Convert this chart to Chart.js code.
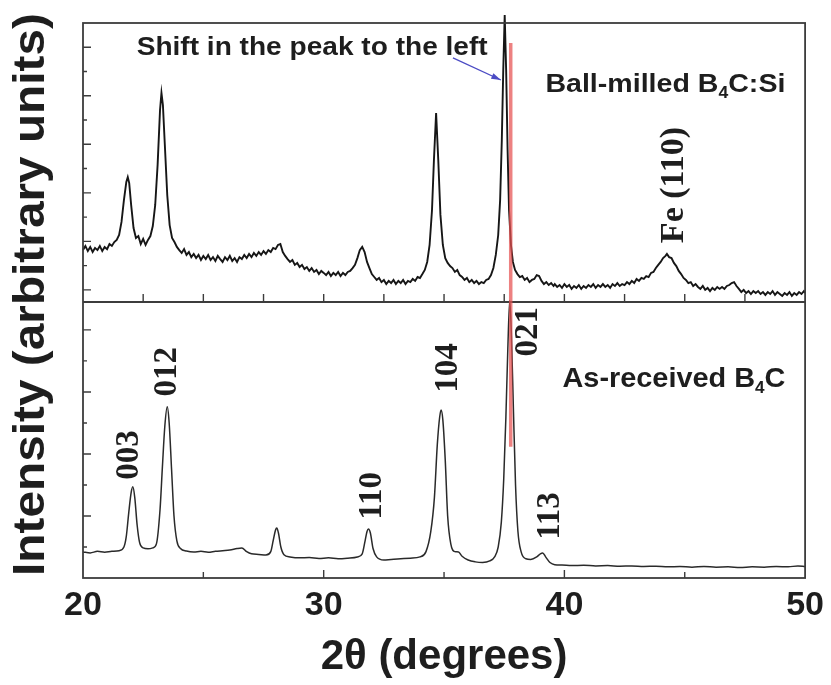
<!DOCTYPE html>
<html>
<head>
<meta charset="utf-8">
<script src="https://cdn.jsdelivr.net/npm/chart.js@4.4.1/dist/chart.umd.min.js"></script>
<style>
  html, body { margin: 0; padding: 0; background: #ffffff; }
  #c { display: block; }
</style>
</head>
<body>
<canvas id="c" width="831" height="685"></canvas>
<script>
// ---------------- DATA ----------------
// Ball-milled B4C:Si (upper panel), 2θ in degrees, intensity in arbitrary units
const topTheta = [
  20.0,20.1,20.2,20.3,20.4,20.5,20.6,20.7,20.8,20.9,21.0,21.1,21.2,21.3,21.4,21.5,21.6,21.7,21.8,21.86,21.92,
  22.0,22.1,22.2,22.3,22.4,22.5,22.6,22.7,22.8,22.9,23.0,23.1,23.2,23.26,23.32,23.4,23.5,23.6,23.7,23.8,23.9,
  24.0,24.1,24.2,24.3,24.4,24.5,24.6,24.7,24.8,24.9,25.0,25.1,25.2,25.3,25.4,25.5,25.6,25.7,25.8,25.9,
  26.0,26.1,26.2,26.3,26.4,26.5,26.6,26.7,26.8,26.9,27.0,27.1,27.2,27.3,27.4,27.5,27.6,27.7,27.8,27.9,
  28.0,28.1,28.2,28.3,28.4,28.5,28.6,28.7,28.8,28.9,29.0,29.1,29.2,29.3,29.4,29.5,29.6,29.7,29.8,29.9,
  30.0,30.1,30.2,30.3,30.4,30.5,30.6,30.7,30.8,30.9,31.0,31.1,31.2,31.3,31.4,31.5,31.6,31.7,31.8,31.9,
  32.0,32.1,32.2,32.3,32.4,32.5,32.6,32.7,32.8,32.9,33.0,33.1,33.2,33.3,33.4,33.5,33.6,33.7,33.8,33.9,
  34.0,34.1,34.2,34.3,34.4,34.5,34.58,34.67,34.76,34.85,34.95,35.05,35.15,35.25,35.35,35.45,35.55,35.65,35.75,35.85,35.95,
  36.05,36.15,36.25,36.35,36.45,36.55,36.65,36.75,36.85,36.95,37.05,37.15,37.25,37.33,37.4,37.46,37.52,37.58,37.64,37.7,37.78,37.86,37.95,
  38.05,38.15,38.25,38.35,38.45,38.55,38.65,38.75,38.85,38.95,39.05,39.15,39.25,39.35,39.45,39.55,
  39.6,39.7,39.8,39.9,40.0,40.1,40.2,40.3,40.4,40.5,40.6,40.7,40.8,40.9,41.0,41.1,41.2,41.3,41.4,41.5,41.6,41.7,41.8,41.9,
  42.0,42.1,42.2,42.3,42.4,42.5,42.6,42.7,42.8,42.9,43.0,43.1,43.2,43.3,43.4,43.5,43.6,43.7,43.8,43.9,
  44.0,44.1,44.2,44.26,44.35,44.45,44.55,44.65,44.75,44.85,44.95,45.05,45.15,45.25,45.35,45.45,45.55,45.65,45.75,45.85,45.95,
  46.05,46.15,46.25,46.35,46.45,46.55,46.65,46.75,46.85,46.95,47.05,47.15,47.25,47.35,47.45,47.55,47.65,47.75,47.85,47.95,
  48.05,48.15,48.25,48.35,48.45,48.55,48.65,48.75,48.85,48.95,49.05,49.15,49.25,49.35,49.45,49.55,49.65,49.75,49.85,49.95,50.0
];
const topIntensity = [
  1.64,1.81,1.60,1.77,1.56,1.73,1.64,1.81,1.60,1.77,1.68,1.89,1.81,1.97,2.06,2.26,2.80,3.70,4.45,4.65,4.40,
  3.50,2.55,2.14,2.22,1.89,2.10,1.85,2.06,2.22,2.63,3.50,5.15,7.41,8.12,7.62,5.97,3.91,2.67,2.14,1.97,1.77,
  1.64,1.52,1.68,1.44,1.56,1.35,1.48,1.31,1.44,1.23,1.40,1.27,1.44,1.23,1.35,1.19,1.40,1.27,1.15,1.35,
  1.23,1.40,1.19,1.31,1.15,1.35,1.27,1.44,1.31,1.48,1.35,1.52,1.40,1.56,1.44,1.60,1.48,1.64,1.56,1.73,
  1.68,1.85,1.89,1.56,1.40,1.27,1.15,1.23,1.03,1.11,0.94,1.03,0.86,0.94,0.78,0.90,0.74,0.82,0.65,0.78,
  0.70,0.61,0.74,0.57,0.70,0.61,0.74,0.57,0.70,0.61,0.74,0.78,0.90,1.03,1.31,1.64,1.77,1.56,1.15,0.90,
  0.65,0.53,0.41,0.49,0.32,0.41,0.24,0.37,0.28,0.41,0.24,0.37,0.28,0.41,0.24,0.37,0.32,0.45,0.37,0.53,
  0.49,0.65,0.82,1.15,1.85,3.29,5.35,7.29,5.35,3.09,1.85,1.31,1.11,0.98,0.90,0.74,0.82,0.61,0.53,0.41,0.49,
  0.32,0.41,0.28,0.37,0.24,0.32,0.28,0.41,0.45,0.61,0.90,1.44,2.26,3.70,6.18,9.06,11.33,9.06,5.77,3.29,1.85,1.15,0.82,
  0.65,0.53,0.57,0.41,0.49,0.32,0.41,0.45,0.61,0.57,0.37,0.24,0.32,0.20,0.28,0.16,
  0.24,0.12,0.20,0.08,0.24,0.12,0.20,0.04,0.16,0.08,0.20,0.04,0.16,0.08,0.20,0.12,0.24,0.08,0.20,0.12,0.24,0.12,0.20,0.08,
  0.24,0.16,0.28,0.16,0.24,0.20,0.32,0.24,0.37,0.28,0.45,0.37,0.49,0.45,0.57,0.53,0.70,0.74,0.90,1.03,
  1.15,1.31,1.40,1.48,1.35,1.31,1.11,0.98,0.78,0.65,0.49,0.41,0.28,0.32,0.16,0.24,0.12,0.04,0.16,0.00,0.08,
  -0.05,0.08,0.00,0.12,0.04,0.12,0.04,0.16,0.20,0.28,0.32,0.16,0.04,-0.09,0.00,-0.13,-0.05,-0.17,-0.05,-0.13,
  -0.05,-0.17,-0.09,-0.21,-0.09,-0.17,-0.05,-0.21,-0.09,-0.17,-0.25,-0.13,-0.21,-0.09,-0.25,-0.13,-0.21,-0.09,-0.17,-0.05,-0.13
];

// As-received B4C (lower panel)
const bottomTheta = [
  20.0,20.3,20.6,20.9,21.2,21.5,21.7,21.8,21.9,22.0,22.07,22.15,22.25,22.35,22.5,22.7,22.9,
  23.05,23.2,23.3,23.4,23.5,23.58,23.68,23.78,23.9,24.05,24.3,24.6,24.9,25.2,25.5,25.8,
  26.1,26.4,26.6,26.8,27.0,27.3,27.6,27.8,27.9,28.0,28.05,28.12,28.22,28.35,28.6,29.0,29.4,29.8,
  30.2,30.6,31.0,31.4,31.6,31.72,31.8,31.86,31.94,32.05,32.2,32.5,32.8,33.2,33.6,
  34.0,34.25,34.45,34.6,34.72,34.82,34.88,34.95,35.05,35.15,35.28,35.45,35.6,35.75,
  36.0,36.3,36.6,36.9,37.1,37.25,37.38,37.48,37.57,37.65,37.73,37.8,37.88,37.97,
  38.07,38.2,38.4,38.6,38.85,39.0,39.1,39.22,39.4,39.6,39.9,40.3,40.8,41.3,41.8,
  42.3,42.8,43.3,43.8,44.3,44.8,45.3,45.8,46.3,46.8,47.3,47.8,48.3,48.8,49.3,49.7,50.0
];
const bottomIntensity = [
  0.84,0.81,0.86,0.83,0.86,0.88,1.00,1.35,2.10,2.75,2.94,2.60,1.70,1.15,0.97,0.94,0.97,
  1.10,2.20,3.60,4.90,5.52,5.00,3.50,2.00,1.20,0.95,0.87,0.84,0.86,0.83,0.86,0.88,
  0.90,0.95,0.97,0.85,0.78,0.76,0.74,0.85,1.20,1.55,1.61,1.45,1.00,0.75,0.68,0.65,0.66,0.63,
  0.65,0.62,0.64,0.68,0.78,1.20,1.50,1.58,1.45,0.95,0.68,0.58,0.60,0.62,0.64,
  0.68,0.85,1.50,2.60,4.30,5.20,5.42,5.10,3.80,2.00,1.10,0.85,0.84,0.70,
  0.58,0.52,0.50,0.55,0.68,1.00,1.80,3.20,5.20,7.40,8.95,7.80,5.50,3.00,
  1.50,0.85,0.62,0.60,0.68,0.78,0.81,0.68,0.50,0.43,0.42,0.40,0.41,0.39,0.40,
  0.38,0.39,0.37,0.38,0.36,0.37,0.35,0.37,0.35,0.36,0.34,0.36,0.35,0.37,0.36,0.39,0.37
];

const xTickValues = [20, 30, 40, 50];
const xTitle = '2\u03B8 (degrees)';
const yTitle = 'Intensity (arbitrary units)';

// Miller-index labels of the as-received pattern
const peakLabels = ['003', '012', '110', '104', '021', '113'];
const peakLabelTheta = [21.94, 23.49, 32.02, 35.19, 38.49, 39.44];
const peakLabelLevel = [3.97, 6.65, 2.65, 6.77, 7.94, 2.0];

// ---------------- CHART ----------------
const INK = '#1e1e1e';
const FRAME = '#3c3c3c';

function fitText(ctx, parts, x, y, targetWidth) {
  let w = 0;
  for (const p of parts) { ctx.font = p.font; p.w = ctx.measureText(p.t).width; w += p.w; }
  const s = targetWidth / w;
  ctx.save();
  ctx.translate(x, y);
  ctx.scale(s, 1);
  ctx.textAlign = 'left';
  ctx.textBaseline = 'alphabetic';
  let cx = 0;
  for (const p of parts) { ctx.font = p.font; ctx.fillText(p.t, cx, p.dy || 0); cx += p.w; }
  ctx.restore();
}

const decorPlugin = {
  id: 'decor',
  afterDatasetsDraw(chart) {
    const {ctx, chartArea: a, scales} = chart;
    const xs = scales.x, yt = scales.yTop, yb = scales.yBot;
    ctx.save();
    ctx.strokeStyle = FRAME;
    ctx.lineWidth = 1.8;
    ctx.strokeRect(a.left, a.top, a.right - a.left, a.bottom - a.top);
    const yDiv = yt.bottom;
    ctx.beginPath(); ctx.moveTo(a.left, yDiv); ctx.lineTo(a.right, yDiv); ctx.stroke();
    ctx.lineWidth = 1.4;
    ctx.beginPath();
    for (let v = 22.5; v < 50; v += 2.5) {
      const px = xs.getPixelForValue(v);
      ctx.moveTo(px, yDiv); ctx.lineTo(px, yDiv - 8);
    }
    for (let v = 25; v < 50; v += 5) {
      const px = xs.getPixelForValue(v);
      ctx.moveTo(px, a.bottom); ctx.lineTo(px, a.bottom - (v % 10 === 0 ? 8 : 6));
    }
    for (let v = 0; v <= 10; v++) {
      const py = yt.getPixelForValue(v);
      ctx.moveTo(a.left, py); ctx.lineTo(a.left + (v % 2 === 0 ? 8 : 4), py);
    }
    for (let v = 1; v <= 8; v++) {
      const py = yb.getPixelForValue(v);
      ctx.moveTo(a.left, py); ctx.lineTo(a.left + (v % 2 === 0 ? 8 : 4), py);
    }
    ctx.stroke();

    // red reference line through the 021 reflection
    const xr = xs.getPixelForValue(37.77);
    ctx.strokeStyle = 'rgba(230,80,80,0.72)';
    ctx.lineWidth = 3.5;
    ctx.beginPath();
    ctx.moveTo(xr, yt.getPixelForValue(10.18));
    ctx.lineTo(xr, yb.getPixelForValue(4.23));
    ctx.stroke();

    // arrow "shift"
    const ax0 = xs.getPixelForValue(35.37), ay0 = yt.getPixelForValue(9.56);
    const ax1 = xs.getPixelForValue(37.36), ay1 = yt.getPixelForValue(8.65);
    ctx.strokeStyle = '#4b4bc4';
    ctx.fillStyle = '#4b4bc4';
    ctx.lineWidth = 1.3;
    ctx.beginPath(); ctx.moveTo(ax0, ay0); ctx.lineTo(ax1, ay1); ctx.stroke();
    const ang = Math.atan2(ay1 - ay0, ax1 - ax0);
    ctx.beginPath();
    ctx.moveTo(ax1, ay1);
    ctx.lineTo(ax1 - 10 * Math.cos(ang - 0.3), ay1 - 10 * Math.sin(ang - 0.3));
    ctx.lineTo(ax1 - 10 * Math.cos(ang + 0.3), ay1 - 10 * Math.sin(ang + 0.3));
    ctx.closePath(); ctx.fill();
    ctx.restore();
  },
  afterDraw(chart) {
    const {ctx, chartArea: a, scales} = chart;
    const xs = scales.x, yt = scales.yTop, yb = scales.yBot;
    ctx.save();
    ctx.fillStyle = INK;
    const sans = '"Liberation Sans", Arial, sans-serif';
    const serif = '"Liberation Serif", "Times New Roman", serif';

    // y-axis title
    ctx.save();
    ctx.translate(32, (a.top + a.bottom) / 2 - 6);
    ctx.rotate(-Math.PI / 2);
    ctx.font = 'bold 44px ' + sans;
    const tw = ctx.measureText(yTitle).width;
    ctx.scale(563 / tw, 1);
    ctx.textAlign = 'center';
    ctx.textBaseline = 'middle';
    ctx.fillText(yTitle, 0, 0);
    ctx.restore();

    // panel texts
    fitText(ctx, [{t: 'Shift in the peak to the left', font: 'bold 25px ' + sans}],
      xs.getPixelForValue(22.23), yt.getPixelForValue(9.68), 351);
    fitText(ctx, [
      {t: 'Ball-milled B', font: 'bold 26px ' + sans},
      {t: '4', font: 'bold 16px ' + sans, dy: 6},
      {t: 'C:Si', font: 'bold 26px ' + sans}
    ], xs.getPixelForValue(39.21), yt.getPixelForValue(8.16), 240);
    fitText(ctx, [
      {t: 'As-received B', font: 'bold 27px ' + sans},
      {t: '4', font: 'bold 16px ' + sans, dy: 6},
      {t: 'C', font: 'bold 27px ' + sans}
    ], xs.getPixelForValue(39.92), yb.getPixelForValue(6.16), 223);

    // rotated serif labels
    const rot = (txt, px, py, size) => {
      ctx.save();
      ctx.translate(px, py);
      ctx.rotate(-Math.PI / 2);
      ctx.font = 'bold ' + size + 'px ' + serif;
      ctx.textAlign = 'center';
      ctx.textBaseline = 'middle';
      ctx.fillText(txt, 0, 0);
      ctx.restore();
    };
    rot('Fe (110)', xs.getPixelForValue(44.55), yt.getPixelForValue(4.32), 34);
    peakLabels.forEach((t, i) => {
      rot(t, xs.getPixelForValue(peakLabelTheta[i]), yb.getPixelForValue(peakLabelLevel[i]), 33);
    });
    ctx.restore();
  }
};

const toPoints = (xs, ys) => xs.map((x, i) => ({x: x, y: ys[i]}));

new Chart(document.getElementById('c'), {
  type: 'line',
  data: {
    datasets: [
      {
        label: 'As-received B4C',
        data: toPoints(bottomTheta, bottomIntensity),
        yAxisID: 'yBot',
        borderColor: '#2a2a2a',
        borderWidth: 1.5,
        pointRadius: 0,
        cubicInterpolationMode: 'monotone',
        clip: false
      },
      {
        label: 'Ball-milled B4C:Si',
        data: toPoints(topTheta, topIntensity),
        yAxisID: 'yTop',
        borderColor: '#161616',
        borderWidth: 1.9,
        pointRadius: 0,
        tension: 0,
        clip: false
      }
    ]
  },
  options: {
    responsive: false,
    animation: false,
    events: [],
    layout: { padding: { top: 23, right: 22, left: 0, bottom: 0 } },
    plugins: { legend: { display: false }, tooltip: { enabled: false } },
    scales: {
      x: {
        type: 'linear', position: 'bottom', min: 20, max: 50,
        afterBuildTicks: s => { s.ticks = xTickValues.map(v => ({value: v})); },
        ticks: { color: INK, padding: 7, maxRotation: 0, autoSkip: false,
                 font: { family: '"Liberation Sans", Arial, sans-serif', size: 34, weight: 'bold' } },
        grid: { display: false, drawTicks: false },
        border: { display: false },
        title: { display: true, text: xTitle, color: INK, padding: { top: 0, bottom: 2 },
                 font: { family: '"Liberation Sans", Arial, sans-serif', size: 42, weight: 'bold' } },
        afterFit: s => { s.height = 107; }
      },
      yBot: {
        type: 'linear', position: 'left', stack: 'xrd', stackWeight: 276, min: 0, max: 8.9,
        ticks: { display: false }, grid: { display: false, drawTicks: false }, border: { display: false },
        afterFit: s => { s.width = 83; }
      },
      yTop: {
        type: 'linear', position: 'left', stack: 'xrd', stackWeight: 279, min: -0.5, max: 11,
        ticks: { display: false }, grid: { display: false, drawTicks: false }, border: { display: false },
        afterFit: s => { s.width = 83; }
      }
    }
  },
  plugins: [decorPlugin]
});
</script>
</body>
</html>
